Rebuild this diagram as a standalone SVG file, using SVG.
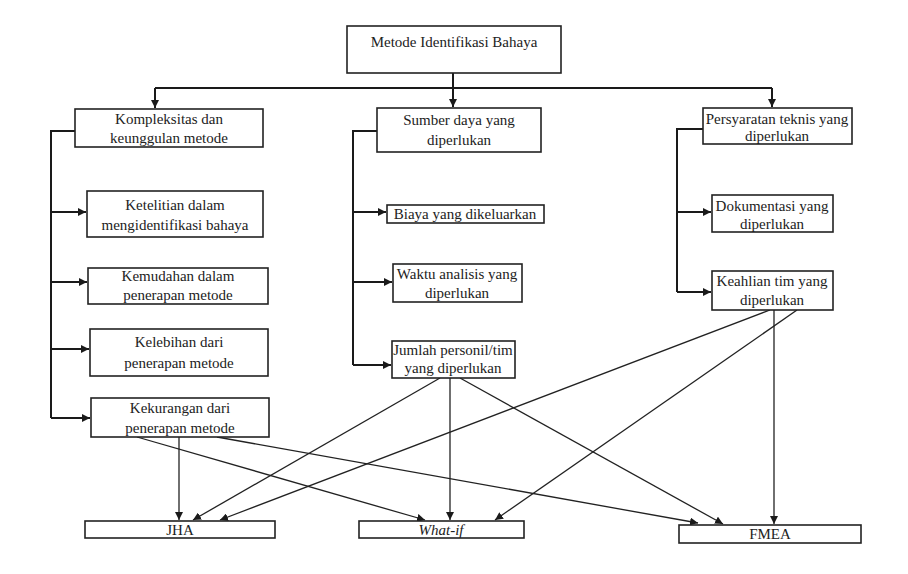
<svg xmlns="http://www.w3.org/2000/svg" width="908" height="574" viewBox="0 0 908 574">
<defs>
<marker id="ah" markerUnits="userSpaceOnUse" markerWidth="9" markerHeight="8" refX="8" refY="4" orient="auto">
<path d="M0,0 L8,4 L0,8 Z" fill="#1a1a1a"/>
</marker>
<style>
.box{fill:#fff;stroke:#222;stroke-width:1.6}
.t{font-family:"Liberation Serif","Times New Roman",serif;font-size:15px;fill:#222;text-anchor:middle}
.tree{fill:none;stroke:#1a1a1a;stroke-width:2}
.x{fill:none;stroke:#222;stroke-width:1.3}
</style>
</defs>
<rect width="908" height="574" fill="#fff"/>
<g id="connectors">
<path class="tree" d="M453,73 V88 M155,88 H772"/>
<path class="tree" d="M155,88 V108" marker-end="url(#ah)"/>
<path class="tree" d="M453,88 V107" marker-end="url(#ah)"/>
<path class="tree" d="M772,88 V107" marker-end="url(#ah)"/>
<path class="tree" d="M75,131 H51 V418"/>
<path class="tree" d="M51,212 H86" marker-end="url(#ah)"/>
<path class="tree" d="M51,282 H87" marker-end="url(#ah)"/>
<path class="tree" d="M51,349 H89" marker-end="url(#ah)"/>
<path class="tree" d="M51,418 H90" marker-end="url(#ah)"/>
<path class="tree" d="M377,131 H353 V365"/>
<path class="tree" d="M353,212 H386" marker-end="url(#ah)"/>
<path class="tree" d="M353,282 H392" marker-end="url(#ah)"/>
<path class="tree" d="M353,365 H391" marker-end="url(#ah)"/>
<path class="tree" d="M703,129 H677 V292"/>
<path class="tree" d="M677,212 H711" marker-end="url(#ah)"/>
<path class="tree" d="M677,292 H711" marker-end="url(#ah)"/>
<path class="x" d="M179,437 V520" marker-end="url(#ah)"/>
<path class="x" d="M137,437 L425,520" marker-end="url(#ah)"/>
<path class="x" d="M217,437 L698,523" marker-end="url(#ah)"/>
<path class="x" d="M440,378 L193,520" marker-end="url(#ah)"/>
<path class="x" d="M450,378 V520" marker-end="url(#ah)"/>
<path class="x" d="M460,378 L723,524" marker-end="url(#ah)"/>
<path class="x" d="M770,310 L220,520" marker-end="url(#ah)"/>
<path class="x" d="M797,310 L495,520" marker-end="url(#ah)"/>
<path class="x" d="M774,310 V524" marker-end="url(#ah)"/>
</g>
<g id="n-root"><rect class="box" x="347" y="26" width="214" height="47"/><text class="t" x="454" y="47">Metode Identifikasi Bahaya</text></g>
<g id="n-kompleksitas"><rect class="box" x="75" y="109" width="188" height="38"/><text class="t" x="169" y="124">Kompleksitas dan</text><text class="t" x="169" y="143">keunggulan metode</text></g>
<g id="n-ketelitian"><rect class="box" x="87" y="191" width="176" height="46"/><text class="t" x="175" y="210">Ketelitian dalam</text><text class="t" x="175" y="230">mengidentifikasi bahaya</text></g>
<g id="n-kemudahan"><rect class="box" x="88" y="268" width="180" height="36"/><text class="t" x="178" y="281">Kemudahan dalam</text><text class="t" x="178" y="300">penerapan metode</text></g>
<g id="n-kelebihan"><rect class="box" x="90" y="329" width="178" height="47"/><text class="t" x="179" y="347">Kelebihan dari</text><text class="t" x="179" y="368">penerapan metode</text></g>
<g id="n-kekurangan"><rect class="box" x="91" y="398" width="178" height="39"/><text class="t" x="180" y="413">Kekurangan dari</text><text class="t" x="180" y="433">penerapan metode</text></g>
<g id="n-sumber"><rect class="box" x="377" y="108" width="164" height="44"/><text class="t" x="459" y="125">Sumber daya yang</text><text class="t" x="459" y="145">diperlukan</text></g>
<g id="n-biaya"><rect class="box" x="387" y="205" width="157" height="18"/><text class="t" x="465" y="219">Biaya yang dikeluarkan</text></g>
<g id="n-waktu"><rect class="box" x="393" y="264" width="129" height="38"/><text class="t" x="457" y="279">Waktu analisis yang</text><text class="t" x="457" y="298">diperlukan</text></g>
<g id="n-jumlah"><rect class="box" x="392" y="341" width="123" height="37"/><text class="t" x="453" y="355">Jumlah personil/tim</text><text class="t" x="453" y="373">yang diperlukan</text></g>
<g id="n-persyaratan"><rect class="box" x="703" y="108" width="149" height="36"/><text class="t" x="777" y="124">Persyaratan teknis yang</text><text class="t" x="777" y="141">diperlukan</text></g>
<g id="n-dokumentasi"><rect class="box" x="712" y="195" width="121" height="37"/><text class="t" x="772" y="211">Dokumentasi yang</text><text class="t" x="772" y="229">diperlukan</text></g>
<g id="n-keahlian"><rect class="box" x="712" y="271" width="121" height="39"/><text class="t" x="772" y="286">Keahlian tim yang</text><text class="t" x="772" y="305">diperlukan</text></g>
<g id="n-jha"><rect class="box" x="85" y="521" width="190" height="17"/><text class="t" x="180" y="535">JHA</text></g>
<g id="n-whatif"><rect class="box" x="359" y="521" width="165" height="17"/><text class="t" x="441" y="535" font-style="italic">What-if</text></g>
<g id="n-fmea"><rect class="box" x="679" y="525" width="182" height="18"/><text class="t" x="770" y="539">FMEA</text></g>
</svg>
